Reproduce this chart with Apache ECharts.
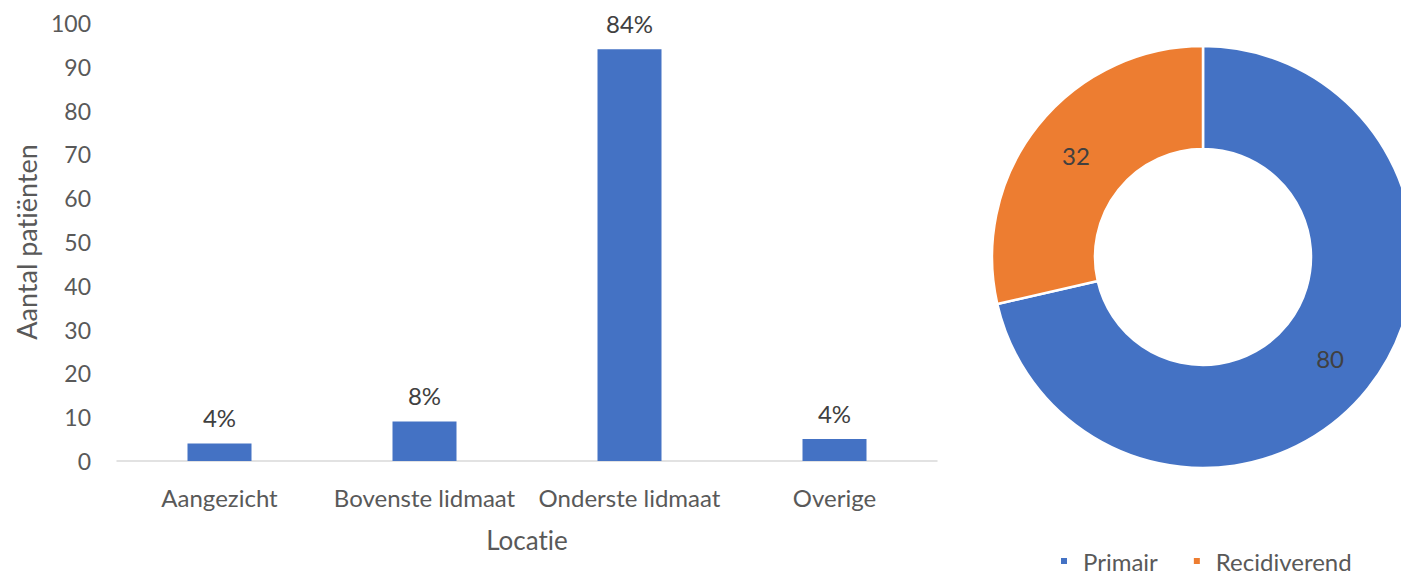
<!DOCTYPE html>
<html>
<head>
<meta charset="utf-8">
<script src="https://cdn.jsdelivr.net/npm/echarts@6/dist/echarts.min.js"></script>
<style>
html,body{margin:0;padding:0;background:#fff;}
#c{width:1401px;height:576px;}
#c text{font-variant-ligatures:none;font-feature-settings:"liga" 0, "clig" 0;}
</style>
</head>
<body>
<div id="c"></div>
<script>
const categories = ['Aangezicht', 'Bovenste lidmaat', 'Onderste lidmaat', 'Overige'];
const counts = [4, 9, 94, 5];
const percentLabels = ['4%', '8%', '84%', '4%'];
const yTicks = { min: 0, max: 100, interval: 10 };
const pieNames = ['Primair', 'Recidiverend'];
const pieValues = [80, 32];

const FONT = 'Lato';
const TXT = '#595959';
const chart = echarts.init(document.getElementById('c'), null, { renderer: 'svg' });
chart.setOption({
  animation: false,
  textStyle: { fontFamily: FONT },
  color: ['#4472C4', '#ED7D31'],
  grid: { left: 117, right: 464, top: 23, bottom: 115 },
  xAxis: {
    type: 'category',
    data: categories,
    name: 'Locatie',
    nameLocation: 'middle',
    nameGap: 66,
    nameTextStyle: { color: TXT, fontSize: 26, fontFamily: FONT },
    axisLine: { lineStyle: { color: '#D9D9D9', width: 1.5 } },
    axisTick: { show: false },
    axisLabel: { color: TXT, fontSize: 24, margin: 24, fontFamily: FONT, interval: 0 }
  },
  yAxis: {
    type: 'value',
    min: yTicks.min, max: yTicks.max, interval: yTicks.interval,
    name: 'Aantal patiënten',
    nameLocation: 'middle',
    nameGap: 75,
    nameRotate: 90,
    nameTextStyle: { color: TXT, fontSize: 27, fontFamily: FONT },
    axisLine: { show: false },
    axisTick: { show: false },
    splitLine: { show: false },
    axisLabel: { color: TXT, fontSize: 23, margin: 26, fontFamily: FONT }
  },
  legend: {
    data: pieNames,
    left: 1059,
    top: 549,
    padding: 0,
    icon: 'rect',
    itemWidth: 8,
    itemHeight: 8,
    itemGap: 34,
    textStyle: { color: TXT, fontSize: 24, lineHeight: 22, fontFamily: FONT, padding: [0, 0, 0, 10] }
  },
  series: [
    {
      type: 'bar',
      data: counts.map((v, i) => ({ value: v, label: { formatter: percentLabels[i] } })),
      barWidth: 64,
      itemStyle: { color: '#4472C4' },
      label: { show: true, position: 'top', distance: 14, color: '#404040', fontSize: 24, fontFamily: FONT }
    },
    {
      type: 'pie',
      center: [1203, 257],
      radius: [108, 211],
      startAngle: 90,
      clockwise: true,
      data: pieNames.map((n, i) => ({ name: n, value: pieValues[i] })),
      itemStyle: { borderColor: '#fff', borderWidth: 2.5 },
      label: { show: true, position: 'inside', formatter: '{c}', color: '#404040', fontSize: 24, fontFamily: FONT },
      labelLine: { show: false },
      emphasis: { disabled: true }
    }
  ]
});
</script>
</body>
</html>
